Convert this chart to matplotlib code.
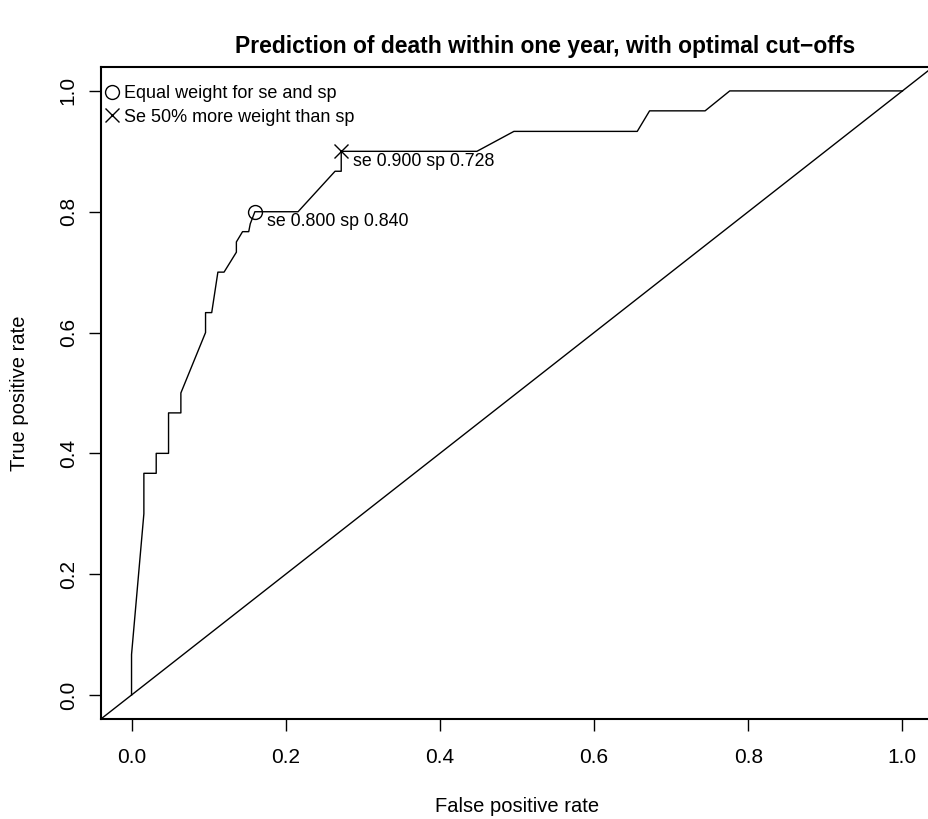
import numpy as np
import matplotlib.pyplot as plt

plt.rcParams['font.family'] = ['Liberation Sans', 'DejaVu Sans']

# ROC curve (30 deaths, 125 survivors)
fpr = [0, 0, 0.016, 0.016, 0.032, 0.032, 0.048, 0.048, 0.064, 0.064,
       0.096, 0.096, 0.104, 0.112, 0.120, 0.136, 0.136, 0.144, 0.152, 0.154,
       0.160, 0.216, 0.264, 0.272, 0.272, 0.448, 0.496, 0.656, 0.672, 0.744,
       0.776, 1.0]
tpr = [0, 0.067, 0.300, 0.367, 0.367, 0.400, 0.400, 0.467, 0.467, 0.500,
       0.600, 0.633, 0.633, 0.700, 0.700, 0.733, 0.750, 0.767, 0.767, 0.780,
       0.800, 0.800, 0.867, 0.867, 0.900, 0.900, 0.933, 0.933, 0.967, 0.967,
       1.0, 1.0]

# optimal cut-offs
cut_se = [0.800, 0.900]
cut_sp = [0.840, 0.728]
cut_names = ["Equal weight for se and sp", "Se 50% more weight than sp"]
cut_markers = ["o", "x"]

TITLE = "Prediction of death within one year, with optimal cut\u2212offs"
TICKS = [0.0, 0.2, 0.4, 0.6, 0.8, 1.0]


def main():
    fig = plt.figure(figsize=(9.29, 8.19), dpi=100)
    # plot region runs a bit past the right edge, like the original
    ax = fig.add_axes([0.1084, 0.1219, 0.8962, 0.7966])

    ax.plot(fpr, tpr, color="black", lw=1.0)
    ax.axline((0, 0), slope=1, color="black", lw=1.0)

    for se, sp, name, m in zip(cut_se, cut_sp, cut_names, cut_markers):
        ax.plot(1 - sp, se, m, color="black", mfc="none", ms=10, mew=1.0,
                label=name, linestyle="none")
        ax.annotate(f"se {se:.3f} sp {sp:.3f}", (1 - sp, se),
                    xytext=(8.5, -7), textcoords="offset points",
                    ha="left", va="center", fontsize=12.8)

    ax.set_xlim(-0.04, 1.04)
    ax.set_ylim(-0.04, 1.04)
    ax.set_xticks(TICKS)
    ax.set_yticks(TICKS)
    ax.set_xticklabels([f"{t:.1f}" for t in TICKS])
    ax.set_yticklabels([f"{t:.1f}" for t in TICKS], rotation=90, va="center")
    ax.tick_params(direction="out", length=8.6, width=1.0, labelsize=15,
                   color="black")
    ax.tick_params(axis="x", pad=12.5)
    ax.tick_params(axis="y", pad=8)
    for s in ax.spines.values():
        s.set_linewidth(1.5)

    ax.set_xlabel("False positive rate", fontsize=14.5, va="center")
    ax.xaxis.set_label_coords(0.5, -0.134)
    ax.set_ylabel("True positive rate", fontsize=14.5, va="center")
    ax.yaxis.set_label_coords(-0.097, 0.5)

    ax.legend(loc="upper left", bbox_to_anchor=(-0.0096, 0.9908), frameon=False,
              fontsize=13, handlelength=0.7, handletextpad=0.35,
              labelspacing=0.35, borderaxespad=0.3)

    fig.text(545 / 929, 1 - 47 / 819, TITLE, ha="center", va="center",
             fontsize=16.5, fontweight="bold")

    fig.savefig("out.png", dpi=100)


if __name__ == "__main__":
    main()
